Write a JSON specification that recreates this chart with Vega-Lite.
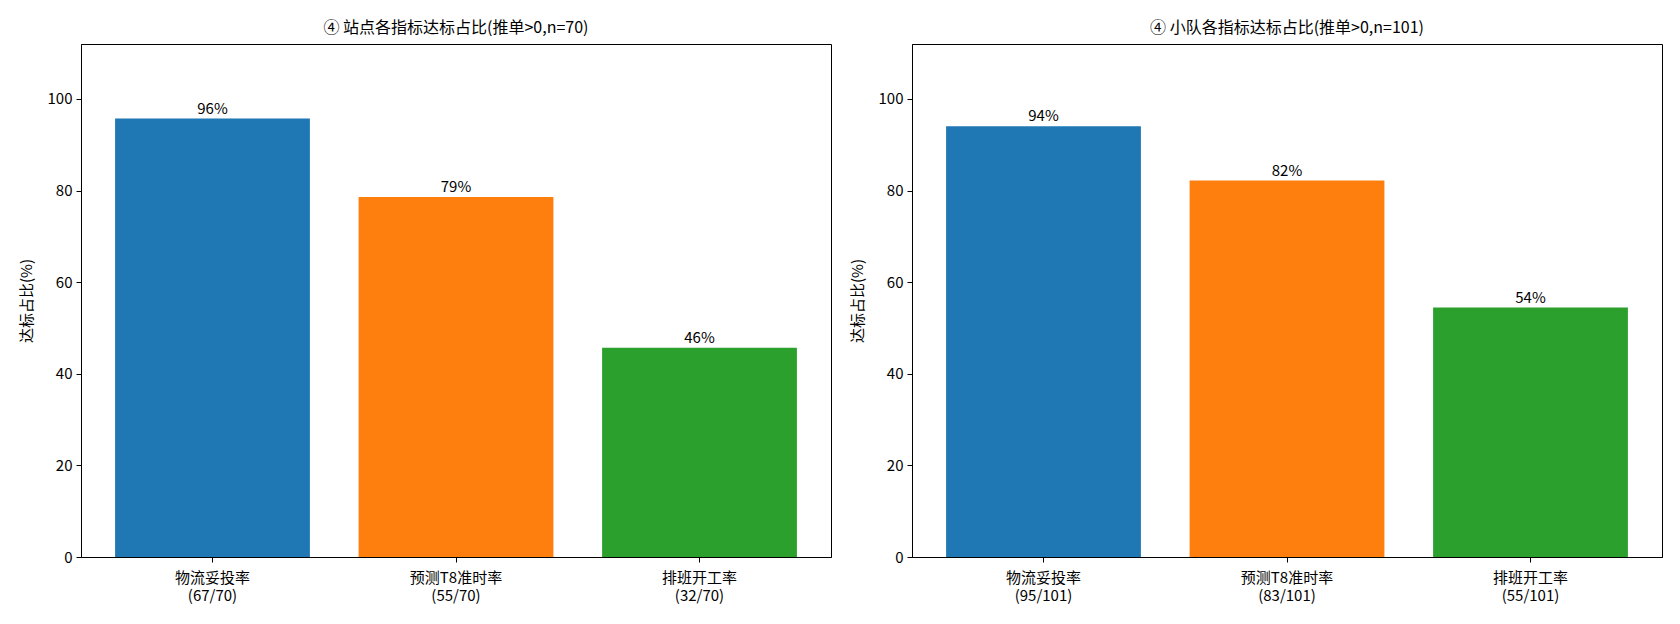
{
  "$schema": "https://vega.github.io/schema/vega-lite/v6.json",
  "padding": {"left": 18, "top": 19, "right": 5, "bottom": 5},
  "datasets": {
    "station": [
      {"cat": "物流妥投率|(67/70)", "value": 95.71, "label": "96%"},
      {"cat": "预测T8准时率|(55/70)", "value": 78.57, "label": "79%"},
      {"cat": "排班开工率|(32/70)", "value": 45.71, "label": "46%"}
    ],
    "team": [
      {"cat": "物流妥投率|(95/101)", "value": 94.06, "label": "94%"},
      {"cat": "预测T8准时率|(83/101)", "value": 82.18, "label": "82%"},
      {"cat": "排班开工率|(55/101)", "value": 54.46, "label": "54%"}
    ]
  },
  "config": {
    "font": "Noto Sans CJK SC",
    "view": {"stroke": "#000000", "strokeWidth": 1},
    "axis": {
      "domainColor": "#000000", "tickColor": "#000000", "labelColor": "#000000",
      "titleColor": "#000000", "grid": false, "labelFontSize": 15, "titleFontSize": 15,
      "titleFontWeight": "normal", "tickSize": 5, "labelPadding": 4
    },
    "title": {"fontSize": 16, "fontWeight": "normal", "color": "#000000", "offset": 8},
    "concat": {"spacing": 17}
  },
  "hconcat": [
    {
      "title": "④ 站点各指标达标占比(推单>0,n=70)",
      "data": {"name": "station"},
      "width": 750,
      "height": 513,
      "encoding": {
        "x": {"field": "cat", "type": "nominal", "sort": null,
          "scale": {"paddingInner": 0.2, "paddingOuter": 0.14},
          "axis": {"title": null, "labelAngle": 0, "labelExpr": "split(datum.value, '|')", "labelLineHeight": 18, "labelPadding": 8}},
        "y": {"field": "value", "type": "quantitative",
          "scale": {"domain": [0, 112], "nice": false},
          "axis": {"title": "达标占比(%)", "values": [0, 20, 40, 60, 80, 100], "titlePadding": 13}}
      },
      "layer": [
        {"mark": {"type": "bar"},
          "encoding": {"color": {"field": "cat", "type": "nominal", "sort": null, "legend": null,
            "scale": {"range": ["#1f77b4", "#ff7f0e", "#2ca02c"]}}}},
        {"mark": {"type": "text", "baseline": "bottom", "dy": -2, "fontSize": 15, "color": "#000000"},
          "encoding": {"text": {"field": "label"}}}
      ]
    },
    {
      "title": "④ 小队各指标达标占比(推单>0,n=101)",
      "data": {"name": "team"},
      "width": 750,
      "height": 513,
      "encoding": {
        "x": {"field": "cat", "type": "nominal", "sort": null,
          "scale": {"paddingInner": 0.2, "paddingOuter": 0.14},
          "axis": {"title": null, "labelAngle": 0, "labelExpr": "split(datum.value, '|')", "labelLineHeight": 18, "labelPadding": 8}},
        "y": {"field": "value", "type": "quantitative",
          "scale": {"domain": [0, 112], "nice": false},
          "axis": {"title": "达标占比(%)", "values": [0, 20, 40, 60, 80, 100], "titlePadding": 13}}
      },
      "layer": [
        {"mark": {"type": "bar"},
          "encoding": {"color": {"field": "cat", "type": "nominal", "sort": null, "legend": null,
            "scale": {"range": ["#1f77b4", "#ff7f0e", "#2ca02c"]}}}},
        {"mark": {"type": "text", "baseline": "bottom", "dy": -2, "fontSize": 15, "color": "#000000"},
          "encoding": {"text": {"field": "label"}}}
      ]
    }
  ]
}
